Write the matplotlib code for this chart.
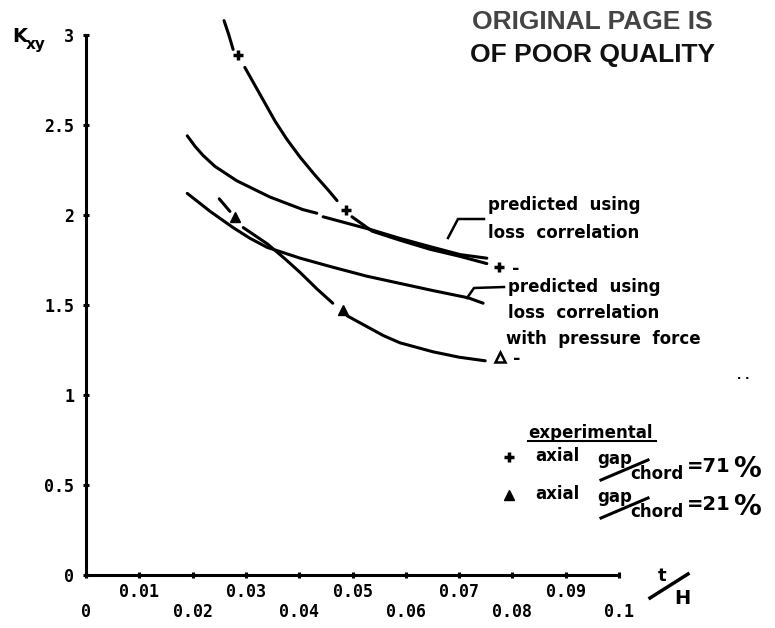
import matplotlib
matplotlib.use("Agg")
import matplotlib.pyplot as plt
from matplotlib.lines import Line2D
import numpy as np

W, H = 775, 628

# values (t/H, Kxy); nan marks breaks in the drawn line
exp71_line_x = [0.0259, 0.0268, 0.0276, np.nan, 0.0298, 0.0317, 0.0336, 0.0355,
                0.0377, 0.0402, 0.0430, 0.0454, 0.0471, np.nan,
                0.0499, 0.0537, 0.0589, 0.0645, 0.0702, 0.0752]
exp71_line_y = [3.08, 3.00, 2.92, np.nan, 2.82, 2.72, 2.62, 2.52,
                2.42, 2.32, 2.22, 2.14, 2.08, np.nan,
                1.99, 1.91, 1.86, 1.81, 1.77, 1.73]
exp71_x = [0.0285, 0.0488, 0.0775]
exp71_y = [2.89, 2.03, 1.71]

pred_x = [0.0190, 0.0205, 0.0220, 0.0242, 0.0283, 0.0345, 0.0407, 0.0433, np.nan,
          0.0445, 0.0533, 0.0589, 0.0651, 0.0702, 0.0752]
pred_y = [2.44, 2.38, 2.33, 2.27, 2.19, 2.10, 2.03, 2.01, np.nan,
          1.99, 1.92, 1.87, 1.82, 1.78, 1.76]

pres_x = [0.0190, 0.0233, 0.0276, 0.0308, 0.0340, 0.0402, 0.0463, 0.0527,
          0.0589, 0.0651, 0.0717, 0.0745]
pres_y = [2.12, 2.02, 1.93, 1.87, 1.82, 1.76, 1.71, 1.66,
          1.62, 1.58, 1.54, 1.51]

exp21_line_x = [0.0250, 0.0270, np.nan, 0.0295, 0.0340, 0.0372, 0.0402, 0.0433,
                0.0463, np.nan, 0.0490, 0.0527, 0.0558, 0.0589, 0.0651, 0.0700, 0.0749]
exp21_line_y = [2.09, 2.02, np.nan, 1.93, 1.84, 1.76, 1.68, 1.59,
                1.51, np.nan, 1.44, 1.38, 1.33, 1.29, 1.24, 1.21, 1.19]
exp21_x = [0.0280, 0.0482]
exp21_y = [1.99, 1.47]
exp21_end_x = [0.0777]
exp21_end_y = [1.21]

xticks = [0, 0.01, 0.02, 0.03, 0.04, 0.05, 0.06, 0.07, 0.08, 0.09, 0.1]
xlabels = ["0", "0.01", "0.02", "0.03", "0.04", "0.05",
           "0.06", "0.07", "0.08", "0.09", "0.1"]
yticks = [0, 0.5, 1, 1.5, 2, 2.5, 3]
ylabels = ["0", "0.5", "1", "1.5", "2", "2.5", "3"]


def fp(px, py):
    return px / W, 1 - py / H


fig = plt.figure(figsize=(W / 100, H / 100), dpi=100)
ax = fig.add_axes([86 / W, 53 / H, 533 / W, 540 / H])
ax.set_xlim(0, 0.1)
ax.set_ylim(0, 3)
for s in ["top", "right"]:
    ax.spines[s].set_visible(False)
for s in ["left", "bottom"]:
    ax.spines[s].set_linewidth(2.2)

mono = {"family": "DejaVu Sans Mono", "weight": "bold", "size": 12}
ax.set_xticks(xticks)
ax.set_xticklabels(xlabels, fontdict=mono)
ax.set_yticks(yticks)
ax.set_yticklabels(ylabels, fontdict=mono)
ax.tick_params(direction="inout", length=5, width=2.2)
ax.tick_params(axis="y", pad=6)
for i, t in enumerate(ax.xaxis.get_major_ticks()):
    t.set_pad(3 if i % 2 else 18)

lw = 2.2
kw = dict(color="black", lw=lw, clip_on=False, solid_capstyle="round",
          solid_joinstyle="round")
ax.plot(exp71_line_x, exp71_line_y, **kw)
ax.plot(pred_x, pred_y, **kw)
ax.plot(pres_x, pres_y, **kw)
ax.plot(exp21_line_x, exp21_line_y, **kw)
ax.plot(exp71_x, exp71_y, ls="none", marker="+", ms=7, mew=2.5,
        color="black", clip_on=False)
ax.plot(exp21_x, exp21_y, ls="none", marker="^", ms=7,
        color="black", clip_on=False)
ax.plot(exp21_end_x, exp21_end_y, ls="none", marker="^", ms=7, mew=1.8,
        mfc="white", mec="black", clip_on=False)
for x, y in [(exp71_x[-1], exp71_y[-1]), (exp21_end_x[0], exp21_end_y[0])]:
    ax.annotate("-", xy=(x, y), xytext=(12, -1), textcoords="offset points",
                fontsize=13, fontweight="bold", va="center", ha="center")

# axis titles
fig.text(*fp(12, 37), "K", fontsize=14, fontweight="bold", va="center")
fig.text(*fp(26, 45), "xy", fontsize=11, fontweight="bold", va="center")
fig.text(*fp(662, 576), "t", fontsize=13, fontweight="bold", ha="center", va="center")
fig.text(*fp(682, 598), "H", fontsize=14, fontweight="bold", ha="center", va="center")
fig.add_artist(Line2D(*zip(fp(650, 598), fp(688, 574)), color="black", lw=2.5))

# stamp
stamp = dict(fontsize=19, family="Liberation Sans", fontweight="bold",
             ha="center", va="center")
fig.text(*fp(592, 22), "ORIGINAL PAGE IS", color="#444444", **stamp)
fig.text(*fp(592, 55), "OF POOR QUALITY", color="#111111", **stamp)

# curve labels
tkw = dict(fontsize=12, fontweight="bold", va="center")
fig.text(*fp(488, 205), "predicted  using", **tkw)
fig.text(*fp(488, 233), "loss  correlation", **tkw)
fig.add_artist(Line2D(*zip(fp(448, 238), fp(458, 219), fp(484, 219)),
                      color="black", lw=1.8))
fig.text(*fp(508, 287), "predicted  using", **tkw)
fig.text(*fp(508, 313), "loss  correlation", **tkw)
fig.text(*fp(506, 339), "with  pressure  force", **tkw)
fig.add_artist(Line2D(*zip(fp(467, 298), fp(474, 288), fp(504, 287)),
                      color="black", lw=1.8))

# experimental key
fig.text(*fp(528, 433), "experimental", **tkw)
fig.add_artist(Line2D(*zip(fp(528, 441), fp(656, 441)), color="black", lw=1.5))
for yc, pct, mk in [(457, "=71", "+"), (495, "=21", "^")]:
    fig.add_artist(Line2D([fp(509, yc)[0]], [fp(509, yc)[1]], marker=mk,
                          ms=7, mew=2.5 if mk == "+" else 1, color="black"))
    fig.text(*fp(535, yc - 1), "axial", **tkw)
    fig.text(*fp(597, yc + 2), "gap", **tkw)
    fig.text(*fp(630, yc + 17), "chord", **tkw)
    fig.add_artist(Line2D(*zip(fp(601, yc + 23), fp(648, yc + 3)),
                          color="black", lw=2.2))
    fig.text(*fp(687, yc + 10), pct, fontsize=14, fontweight="bold", va="center")
    fig.text(*fp(733, yc + 12), "%", fontsize=20, fontweight="bold", va="center")

fig.text(*fp(737, 376), ". .", fontsize=8, fontweight="bold", va="center")

fig.savefig("out.png", dpi=100)
